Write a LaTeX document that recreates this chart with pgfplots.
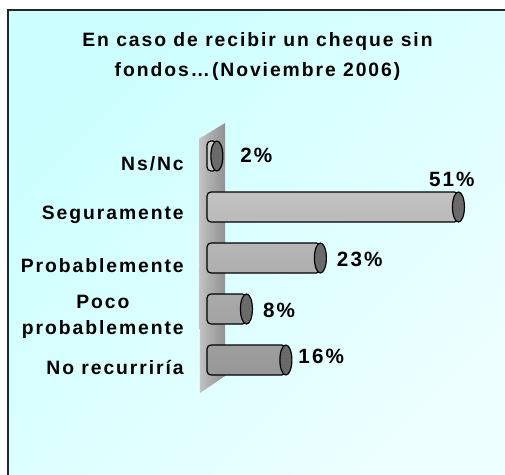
\documentclass[border=0pt]{standalone}
\usepackage{graphicx}
\usepackage{pgfplots}
\usepackage{pgfplotstable}
\pgfplotsset{compat=1.18}
\usetikzlibrary{shadings}
\usepackage{fontspec}
\setmainfont{Liberation Sans}
\newfontfamily\lsf{Liberation Sans}[LetterSpace=10]
\definecolor{bgA}{HTML}{CCFFFF}
\definecolor{bgB}{HTML}{EEFFFF}
\definecolor{w0}{HTML}{7A7A7A}
\definecolor{w1}{HTML}{9C9C9C}
\definecolor{w2}{HTML}{C8C8C8}
\definecolor{w3}{HTML}{B2B2B2}
\definecolor{w4}{HTML}{888888}
\definecolor{w5}{HTML}{A2A2A2}
\pgfdeclarehorizontalshading{wallsh}{100bp}{color(0bp)=(w0); color(8bp)=(w1); color(22bp)=(w2); color(40bp)=(w3); color(85bp)=(w4); color(94bp)=(w4); color(100bp)=(w5)}
\definecolor{barT}{HTML}{CDCDCD}
\definecolor{barM}{HTML}{B6B6B6}
\definecolor{barB}{HTML}{979797}
\definecolor{capgray}{HTML}{6A6A6A}
\pgfdeclareplotmark{cylcap}{%
  \pgfpathellipse{\pgfpointorigin}{\pgfqpoint{4.5pt}{0pt}}{\pgfqpoint{0pt}{11.25pt}}%
  \pgfusepathqfillstroke}
\pgfplotstableread{
y v dx dy
0 16 12 3.5
1 8 16 -1
2 23 16 -1
3 51 -30 27.5
4 2 23 1
}\datatable
\begin{document}
\scalebox{1.070667}{%
\begin{tikzpicture}
\begin{scope}[x=0.75pt,y=0.75pt]
\useasboundingbox (0,0) rectangle (505,475);
\fill[white] (-5,-5) rectangle (515,480);
\shade[top color=bgA, bottom color=bgB, shading angle=45] (8,-10) rectangle (520,465);
\draw[line width=1.5pt, black!85] (8,-5) -- (8,465) -- (515,465);
% decorative 3D wall
\shade[shading=wallsh] (199,336) -- (225,352) -- (225,99) -- (200,82) -- cycle;
\node[anchor=north, inner sep=0pt, align=center, font=\lsf\bfseries\fontsize{14.5}{22.5}\selectfont] at (257.5,443)
  {En caso de recibir un cheque sin\\fondos\dots(Noviembre 2006)};
\end{scope}
\begin{axis}[
  at={(150pt,67.125pt)}, anchor=south west,
  scale only axis, width=225pt, height=191.25pt,
  xmin=-1.42, xmax=59.43, ymin=-0.5, ymax=4.5,
  clip=false,
  axis line style={draw=none},
  tick style={draw=none},
  xtick=\empty,
  ytick={0,1,2,3,4},
  yticklabels={No recurriría,{Poco\\probablemente},Probablemente,Seguramente,Ns/Nc},
  yticklabel style={font=\lsf\bfseries\fontsize{14.5}{20}\selectfont, align=center, anchor=east, inner sep=0pt, xshift=-12pt, yshift=-6pt},
]
\addplot[xbar, bar width=22.5pt, draw=black, line width=0.9pt, rounded corners=3pt,
  top color=barT, middle color=barM, bottom color=barB,
  point meta=x,
  visualization depends on={\thisrow{dx} \as \dx},
  visualization depends on={\thisrow{dy} \as \dy},
  nodes near coords={\pgfmathprintnumber[assume math mode=true]{\pgfplotspointmeta}\%},
  every node near coord/.append style={anchor=west, inner sep=0pt, text=black, xshift=\dx*0.75pt, yshift=\dy*0.75pt, font=\lsf\bfseries\fontsize{15.5}{18}\selectfont},
] table[x=v, y=y] {\datatable};
\addplot[only marks, mark=cylcap, mark options={fill=capgray, draw=black, line width=0.9pt}] table[x=v, y=y] {\datatable};
\end{axis}
\end{tikzpicture}%
}
\end{document}
